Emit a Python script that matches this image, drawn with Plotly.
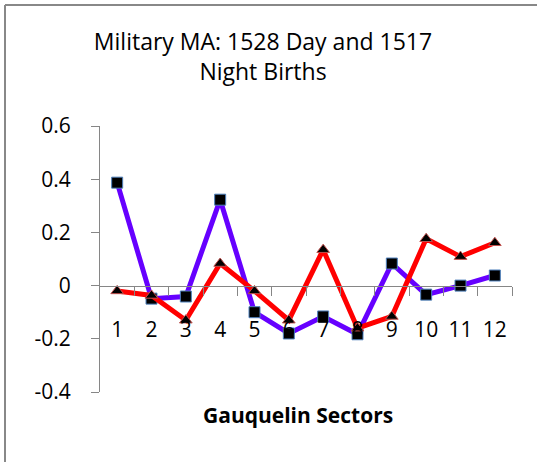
import plotly.graph_objects as go

sectors = [1, 2, 3, 4, 5, 6, 7, 8, 9, 10, 11, 12]
sector_labels = [str(s) for s in sectors]
day_births = [0.387, -0.049, -0.041, 0.323, -0.10, -0.18, -0.116, -0.183, 0.083, -0.034, 0.0, 0.038]
night_births = [-0.02, -0.037, -0.13, 0.083, -0.02, -0.13, 0.135, -0.16, -0.116, 0.176, 0.109, 0.161]
y_ticks = [-0.4, -0.2, 0, 0.2, 0.4, 0.6]
y_tick_text = ["-0.4", "-0.2", "0", "0.2", "0.4", "0.6"]
boundaries = [s + 0.5 for s in sectors]

W, H = 537, 462
L, R, T, B = 100, 25, 126, 70
pw, ph = W - L - R, H - T - B
y_min, y_max = -0.4, 0.6
zero_pos = (0 - y_min) / (y_max - y_min)

FONT = "Open Sans"

fig = go.Figure()
fig.add_trace(go.Scatter(
    x=sectors, y=day_births, mode="lines+markers", name="Day",
    line=dict(color="#6600FF", width=5),
    marker=dict(symbol="square", size=11, color="black", line=dict(color="#4F81BD", width=1)),
))
fig.add_trace(go.Scatter(
    x=sectors, y=night_births, mode="lines+markers", name="Night",
    line=dict(color="#FF0000", width=5),
    marker=dict(symbol="triangle-up", size=11, color="black", line=dict(color="#C0504D", width=1)),
))

def px_x(p):
    return (p - L) / pw

def px_y(p):
    return (H - B - p) / ph

fig.update_layout(
    width=W, height=H,
    margin=dict(l=L, r=R, t=T, b=B),
    paper_bgcolor="white", plot_bgcolor="white",
    showlegend=False,
    font=dict(family=FONT, size=20, color="black"),
    xaxis=dict(
        range=[0.5, 12.5], tickvals=sectors, ticktext=sector_labels,
        anchor="free", position=zero_pos,
        showline=True, linecolor="#868686", linewidth=1,
        ticks="", showgrid=False, zeroline=False,
        ticklabelstandoff=25,
        tickfont=dict(family=FONT, size=21, color="black"),
    ),
    xaxis2=dict(
        range=[0.5, 12.5], overlaying="x", tickvals=boundaries,
        anchor="free", position=zero_pos,
        showline=False, ticks="outside", ticklen=9, tickcolor="#868686",
        showticklabels=False, showgrid=False, zeroline=False,
    ),
    yaxis=dict(
        range=[y_min, y_max], tickvals=y_ticks, ticktext=y_tick_text,
        showline=True, linecolor="#868686", linewidth=1,
        ticks="outside", ticklen=8, tickcolor="#868686",
        showgrid=False, zeroline=False,
        ticklabelstandoff=16,
        tickfont=dict(family=FONT, size=21, color="black"),
    ),
    title=dict(
        text="Military MA: 1528 Day and 1517<br>Night Births",
        x=263 / W, xanchor="center", y=1 - 50 / H, yanchor="middle",
        font=dict(family=FONT, size=23, color="black"),
    ),
)
# invisible trace to activate xaxis2
fig.add_trace(go.Scatter(x=[0.5], y=[0], xaxis="x2", mode="markers",
                         marker=dict(opacity=0), hoverinfo="skip"))

fig.add_annotation(
    text="<b>Gauquelin Sectors</b>", xref="paper", yref="paper",
    x=px_x(298), y=px_y(415), xanchor="center", yanchor="middle",
    showarrow=False, font=dict(family=FONT, size=21, color="black"),
)
# chart frame: top and left edges
fig.add_shape(
    type="line", xref="paper", yref="paper",
    x0=px_x(5), x1=px_x(537), y0=px_y(5), y1=px_y(5),
    line=dict(color="#888888", width=2), layer="above",
)
fig.add_shape(
    type="line", xref="paper", yref="paper",
    x0=px_x(5), x1=px_x(5), y0=px_y(5), y1=px_y(462),
    line=dict(color="#888888", width=2), layer="above",
)

fig.write_html("out.html", config={"displayModeBar": False},
               post_script="document.body.style.margin='0';document.body.style.overflow='hidden';")
